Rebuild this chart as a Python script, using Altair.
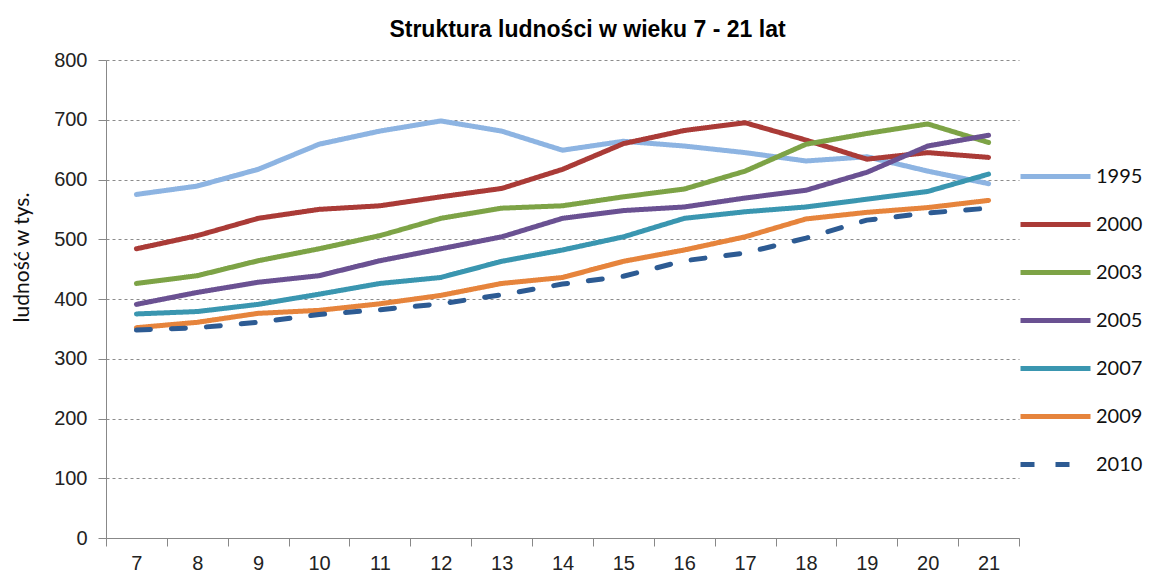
import altair as alt
import pandas as pd

ages = list(range(7, 22))
years = ["1995", "2000", "2003", "2005", "2007", "2009", "2010"]

v1995 = [575, 589, 617, 659, 681, 698, 681, 649, 664, 656, 645, 631, 638, 614, 593]
v2000 = [484, 506, 535, 550, 556, 571, 585, 617, 660, 682, 695, 666, 634, 645, 637]
v2003 = [426, 439, 464, 484, 506, 535, 552, 556, 571, 584, 614, 659, 677, 693, 662]
v2005 = [391, 411, 428, 439, 464, 484, 504, 535, 548, 554, 569, 582, 612, 656, 674]
v2007 = [375, 379, 391, 408, 426, 436, 463, 482, 504, 535, 546, 554, 567, 580, 609]
v2009 = [352, 361, 376, 381, 392, 406, 426, 436, 463, 482, 504, 534, 545, 553, 565]
v2010 = [348, 352, 361, 374, 382, 392, 407, 425, 438, 464, 477, 502, 532, 544, 552]

series = [v1995, v2000, v2003, v2005, v2007, v2009, v2010]
colors = ["#8DB4E2", "#AA3B37", "#7DA346", "#6A5192", "#3A96B0", "#E6843C", "#2D5B93"]
dashes = [[1, 0], [1, 0], [1, 0], [1, 0], [1, 0], [1, 0], [14, 21]]

y_ticks = [0, 100, 200, 300, 400, 500, 600, 700, 800]
x_ticks = [a - 0.5 for a in ages] + [21.5]

rows = []
for yr, vals in zip(years, series):
    for a, v in zip(ages, vals):
        rows.append({"age": a, "value": v, "year": yr})
df = pd.DataFrame(rows)

W = 913
H = 478
band = W / 15.0

axis_font = "Liberation Sans"
leg = alt.Legend(
    title=None,
    orient="none",
    legendX=912,
    legendY=106,
    symbolType="stroke",
    symbolSize=4900,
    symbolStrokeWidth=5,
    clipHeight=21,
    labelFont="Lato",
    labelFontSize=20,
    labelColor="#111111",
    labelOffset=3,
    rowPadding=27,
    padding=0,
)

chart = (
    alt.Chart(df)
    .mark_line(strokeWidth=5, strokeCap="round", strokeJoin="round")
    .encode(
        x=alt.X(
            "age:Q",
            scale=alt.Scale(domain=[6.5, 21.5], nice=False, zero=False),
            axis=alt.Axis(
                title=None,
                values=x_ticks,
                labelExpr="datum.value < 21 ? format(datum.value + 0.5, 'd') : ''",
                labelOffset=band / 2,
                labelFlush=False,
                labelOverlap=False,
                labelBound=False,
                grid=False,
                tickSize=8,
                tickColor="#888888",
                domainColor="#888888",
                labelFont=axis_font,
                labelFontSize=20,
                labelColor="#222222",
                labelPadding=7,
            ),
        ),
        y=alt.Y(
            "value:Q",
            scale=alt.Scale(domain=[0, 800], nice=False),
            axis=alt.Axis(
                title="ludność w tys.",
                values=y_ticks,
                grid=True,
                gridDash=[3, 3],
                gridColor="#8C8C8C",
                gridWidth=1,
                tickSize=8,
                tickColor="#888888",
                domainColor="#888888",
                labelFont=axis_font,
                labelFontSize=20,
                labelColor="#222222",
                labelPadding=11,
                titleFont="Lato",
                titleFontSize=21,
                titleFontWeight="normal",
                titleColor="#111111",
                titleAngle=270,
                titleAlign="center",
                titleBaseline="middle",
                titleX=-84,
                titleY=197,
            ),
        ),
        color=alt.Color("year:N", scale=alt.Scale(domain=years, range=colors), legend=leg),
        strokeDash=alt.StrokeDash("year:N", scale=alt.Scale(domain=years, range=dashes), legend=leg),
    )
    .properties(
        width=W,
        height=H,
        title=alt.TitleParams(
            text="Struktura ludności w wieku 7 - 21 lat",
            font="Liberation Sans",
            fontSize=23,
            fontWeight="bold",
            color="#000000",
            anchor="middle",
            offset=8,
            dx=25,
        ),
        autosize=alt.AutoSizeParams(type="none"),
        padding={"left": 98, "top": 52, "right": 124, "bottom": 38},
        background="white",
    )
    .configure_view(stroke=None)
)

chart.save("out.html", embed_options={"renderer": "svg", "actions": False})
